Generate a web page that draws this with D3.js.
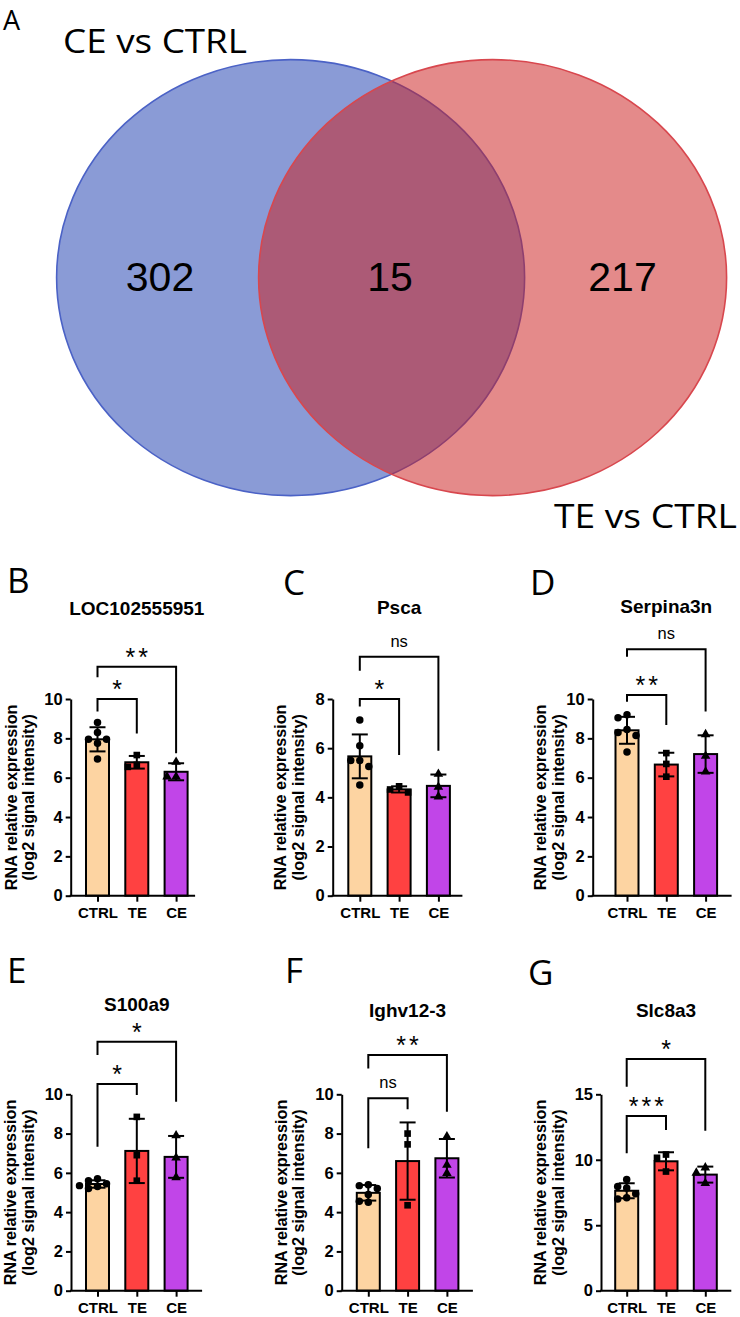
<!DOCTYPE html>
<html>
<head>
<meta charset="utf-8">
<script src="https://cdn.jsdelivr.net/npm/d3@7"></script>
<style>
  body { margin: 0; background: #fff; }
  svg { display: block; }
</style>
</head>
<body>
<div id="fig"></div>
<script>
// Venn data
const vennSets = ["CE vs CTRL", "TE vs CTRL"];
const vennCounts = [302, 15, 217];   // CE only, both, TE only

// bar chart data
const groups = ["CTRL", "TE", "CE"];
const genes = ["LOC102555951", "Psca", "Serpina3n", "S100a9", "Ighv12-3", "Slc8a3"];
const panelLetters = ["B", "C", "D", "E", "F", "G"];
const yMax = [10, 8, 10, 10, 10, 15];
const yStep = [2, 2, 2, 2, 2, 5];

const ctrlValues = [
  [8.8, 8.3, 7.95, 7.95, 7.75, 6.95],
  [7.15, 6.1, 5.5, 5.5, 5.25, 4.5],
  [9.2, 9.05, 8.45, 8.3, 8.15, 7.3],
  [5.7, 5.6, 5.45, 5.35, 5.3, 5.2],
  [5.4, 5.35, 5.2, 4.9, 4.55, 4.5],
  [8.5, 7.95, 7.85, 7.4, 7.1, 7.0]
];
const teValues = [
  [7.15, 6.65, 6.55],
  [4.45, 4.32, 4.2],
  [7.25, 6.7, 6.05],
  [8.85, 6.9, 5.6],
  [8.0, 7.45, 4.35],
  [10.4, 10.15, 9.1]
];
const ceValues = [
  [6.8, 6.05, 6.05],
  [4.95, 4.42, 4.03],
  [8.2, 7.1, 6.3],
  [7.9, 6.77, 5.77],
  [7.85, 6.4, 5.98],
  [9.4, 9.0, 8.2]
];

// significance: first bracket CTRL vs TE, second CTRL vs CE
const sigLabels = [["*", "**"], ["*", "ns"], ["**", "ns"], ["*", "*"], ["ns", "**"], ["***", "*"]];
const sigTops = [[10.0, 11.64], [8.0, 9.72], [10.2, 12.53], [10.52, 12.68], [9.8, 12.0], [13.35, 17.7]];
const sigLegs = [
  [[9.36, 8.25], [11.1, 7.24]],
  [[7.69, 5.72], [9.15, 5.9]],
  [[9.86, 8.68], [12.15, 9.36]],
  [[7.33, 9.96], [12.0, 9.62]],
  [[7.25, 9.24], [11.32, 9.11]],
  [[10.5, 12.28], [15.58, 12.22]]
];

const barColors = ["#fdd4a2", "#ff4141", "#c145e8"];
const ARIAL = "'Liberation Sans', Arial, sans-serif";
const LABEL = "'Open Sans', 'Noto Sans', sans-serif";

var svg = d3.select("#fig").append("svg")
  .attr("width", 740)
  .attr("height", 1317);

// ---------- panel A : Venn ----------
var venn = svg.append("g");
venn.append("text").attr("x", 3).attr("y", 30)
  .style("font-family", LABEL).style("font-size", "27px").text("A");

var ellipses = [
  {cx: 290.6, fill: "#8a9bd6", op: 1, stroke: "#4b62c6"},
  {cx: 492.6, fill: "rgb(203,30,30)", op: 0.52, stroke: "#d8474e"}
];
venn.selectAll("ellipse").data(ellipses).enter().append("ellipse")
  .attr("cx", d => d.cx).attr("cy", 277.6)
  .attr("rx", 234).attr("ry", 218)
  .attr("fill", d => d.fill).attr("fill-opacity", d => d.op)
  .attr("stroke", d => d.stroke).attr("stroke-width", 1.6);

venn.append("text").attr("x", 63).attr("y", 53)
  .attr("textLength", 184).attr("lengthAdjust", "spacingAndGlyphs")
  .style("font-family", LABEL).style("font-size", "32px").text(vennSets[0]);
venn.append("text").attr("x", 554).attr("y", 528)
  .attr("textLength", 183).attr("lengthAdjust", "spacingAndGlyphs")
  .style("font-family", LABEL).style("font-size", "32px").text(vennSets[1]);

var numX = [160, 390, 622.5];
venn.selectAll(".vnum").data(vennCounts).enter().append("text")
  .attr("x", (d, i) => numX[i]).attr("y", 291)
  .attr("text-anchor", "middle")
  .style("font-family", ARIAL).style("font-size", "41px")
  .text(d => d);

// ---------- panels B-G : bar charts ----------
var rows = [{y0: 895.7, y1: 699}, {y0: 1290.7, y1: 1094.3}];
var layout = [
  {ax: 70.7, off: 26.8, row: 0, titleY: 615, lx: 7, ly: 593, yl: 60, ext: 19},
  {ax: 332.7, off: 27.1, row: 0, titleY: 614, lx: 283, ly: 595, yl: 52.7, ext: 24},
  {ax: 592.7, off: 34.3, row: 0, titleY: 613, lx: 530, ly: 595, yl: 52.7, ext: 26},
  {ax: 71, off: 26.5, row: 1, titleY: 1010.7, lx: 7, ly: 983, yl: 61, ext: 26},
  {ax: 341.7, off: 26.6, row: 1, titleY: 1017, lx: 285, ly: 983, yl: 61, ext: 26},
  {ax: 601, off: 25.7, row: 1, titleY: 1017, lx: 528, ly: 985, yl: 61, ext: 26}
];
var step = 39.3, bw = 23;
var symbols = [d3.symbolCircle, d3.symbolSquare, d3.symbolTriangle];

// spread overlapping points sideways, like a small beeswarm
function swarm(vals, cx, y) {
  var placed = [];
  var sorted = vals.slice().sort((a, b) => b - a);
  sorted.forEach(function(v) {
    var py = y(v);
    var ks = [0, -1, 1, -2, 2];
    for (var i = 0; i < ks.length; i++) {
      var px = cx + ks[i] * 9;
      var ok = placed.every(p => Math.hypot(p.x - px, p.y - py) >= 7.6);
      if (ok || i == ks.length - 1) { placed.push({x: px, y: py, v: v}); break; }
    }
  });
  return placed;
}

genes.forEach(function(gene, i) {
  var L = layout[i];
  var R = rows[L.row];
  var g = svg.append("g");

  var y = d3.scaleLinear().domain([0, yMax[i]]).range([R.y0, R.y1]);
  var x = d3.scalePoint().domain(groups)
    .range([L.ax + L.off, L.ax + L.off + 2 * step]);

  var sets = [ctrlValues[i], teValues[i], ceValues[i]];
  var stats = sets.map((v, k) => ({
    g: groups[k], vals: v, mean: d3.mean(v), sd: d3.deviation(v), k: k
  }));

  // bars
  g.selectAll("rect").data(stats).enter().append("rect")
    .attr("x", d => x(d.g) - bw / 2)
    .attr("y", d => y(d.mean))
    .attr("width", bw)
    .attr("height", d => y(0) - y(d.mean))
    .attr("fill", d => barColors[d.k])
    .attr("stroke", "#000").attr("stroke-width", 2);

  // error bars (mean +/- SD)
  stats.forEach(function(d) {
    var cx = x(d.g);
    var eb = g.append("g").attr("stroke", "#000").attr("stroke-width", 2);
    eb.append("line").attr("x1", cx).attr("x2", cx)
      .attr("y1", y(d.mean + d.sd)).attr("y2", y(d.mean - d.sd));
    [d.mean + d.sd, d.mean - d.sd].forEach(function(v) {
      eb.append("line").attr("x1", cx - 8).attr("x2", cx + 8)
        .attr("y1", y(v)).attr("y2", y(v));
    });
  });

  // points
  stats.forEach(function(d) {
    var pts = swarm(d.vals, x(d.g), y);
    g.selectAll(".pt" + d.k).data(pts).enter().append("path")
      .attr("d", d3.symbol().type(symbols[d.k]).size(d.k == 2 ? 40 : 44))
      .attr("transform", p => "translate(" + p.x + "," + p.y + ")")
      .attr("fill", "#000");
  });

  // y axis
  var yAxis = g.append("g")
    .attr("transform", "translate(" + L.ax + ",0)")
    .call(d3.axisLeft(y).tickValues(d3.range(0, yMax[i] + 0.01, yStep[i]))
      .tickSize(5).tickSizeOuter(0).tickPadding(3));
  yAxis.select(".domain").attr("stroke-width", 2);
  yAxis.selectAll(".tick line").attr("stroke-width", 2);
  yAxis.selectAll("text").style("font-family", ARIAL)
    .style("font-size", "16.5px").style("font-weight", "bold").attr("fill", "#000");

  // x axis
  var xAxis = g.append("g")
    .attr("transform", "translate(0," + R.y0 + ")")
    .call(d3.axisBottom(x).tickSize(6).tickSizeOuter(0).tickPadding(6));
  xAxis.select(".domain").remove();
  xAxis.append("line").attr("x1", L.ax - 1).attr("x2", x("CE") + L.ext)
    .attr("stroke", "#000").attr("stroke-width", 2);
  xAxis.selectAll(".tick line").attr("stroke-width", 2);
  xAxis.selectAll("text").style("font-family", ARIAL)
    .style("font-size", "15px").style("font-weight", "bold").attr("fill", "#000");

  // y label
  var cy = (R.y0 + R.y1) / 2;
  ["RNA relative expression", "(log2 signal intensity)"].forEach(function(t, j) {
    g.append("text")
      .attr("transform", "translate(" + (L.ax - L.yl + j * 17.5) + "," + cy + ") rotate(-90)")
      .attr("text-anchor", "middle").attr("dominant-baseline", "central")
      .style("font-family", ARIAL).style("font-size", "16.2px").style("font-weight", "bold")
      .text(t);
  });

  // title and panel letter
  g.append("text").attr("x", x("TE")).attr("y", L.titleY)
    .attr("text-anchor", "middle")
    .style("font-family", ARIAL).style("font-size", "19px").style("font-weight", "bold")
    .text(gene);
  g.append("text").attr("x", L.lx).attr("y", L.ly)
    .style("font-family", LABEL).style("font-size", "35px")
    .text(panelLetters[i]);

  // significance brackets
  ["TE", "CE"].forEach(function(other, b) {
    var x1 = x("CTRL"), x2 = x(other);
    var top = y(sigTops[i][b]);
    var legs = sigLegs[i][b];
    g.append("path")
      .attr("d", "M" + x1 + "," + y(legs[0]) + "V" + top + "H" + x2 + "V" + y(legs[1]))
      .attr("fill", "none").attr("stroke", "#000").attr("stroke-width", 2);
    var lab = sigLabels[i][b];
    var isNs = lab == "ns";
    var ls = isNs ? 0 : 3;
    g.append("text")
      .attr("x", (x1 + x2) / 2 + ls / 2)
      .attr("y", isNs ? top - 10 : top - 1)
      .attr("text-anchor", "middle")
      .style("letter-spacing", ls + "px")
      .style("font-family", ARIAL)
      .style("font-size", isNs ? "16.5px" : "25px")
      .text(lab);
  });
});
</script>
</body>
</html>
